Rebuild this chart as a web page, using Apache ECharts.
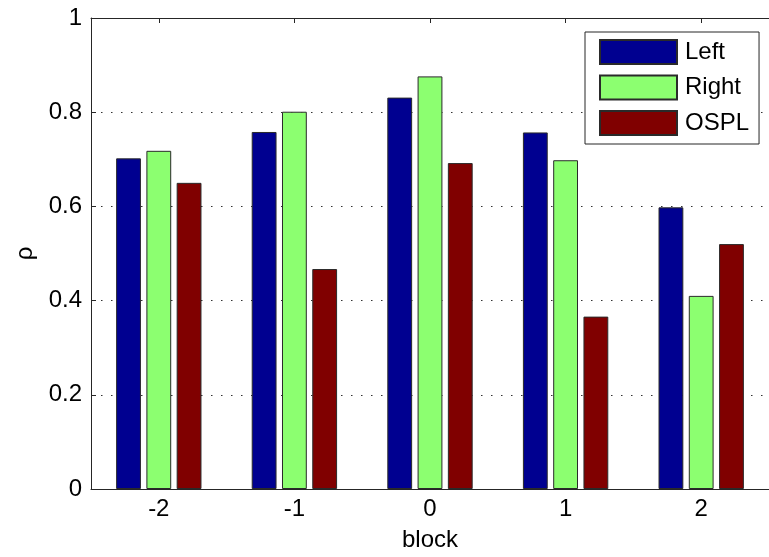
<!DOCTYPE html>
<html>
<head>
<meta charset="utf-8">
<script src="https://cdn.jsdelivr.net/npm/echarts@6/dist/echarts.min.js"></script>
<style>
html,body{margin:0;padding:0;background:#fff;}
#chart{width:769px;height:557px;}
</style>
</head>
<body>
<div id="chart"></div>
<script>
const categories = ['-2', '-1', '0', '1', '2'];
const leftValues = [0.702, 0.758, 0.831, 0.757, 0.598];
const rightValues = [0.718, 0.801, 0.876, 0.698, 0.410];
const osplValues = [0.650, 0.467, 0.692, 0.366, 0.520];
const seriesNames = ['Left', 'Right', 'OSPL'];
const seriesColors = ['#000090', '#8CFF70', '#800000'];
const yTicks = [0, 0.2, 0.4, 0.6, 0.8, 1];

const font = 'Liberation Sans, Arial, Helvetica, sans-serif';
const axisColor = '#262626';

const chart = echarts.init(document.getElementById('chart'), null, {renderer: 'canvas'});

const values = [leftValues, rightValues, osplValues];

chart.setOption({
  animation: false,
  backgroundColor: '#ffffff',
  grid: {left: 91, top: 18, width: 683, height: 474, containLabel: false},
  legend: {
    orient: 'vertical',
    left: 585,
    top: 32,
    data: seriesNames,
    itemWidth: 77,
    itemHeight: 24,
    itemGap: 9.5,
    padding: [7, 10, 8, 14],
    backgroundColor: '#ffffff',
    borderColor: axisColor,
    borderWidth: 1,
    borderRadius: 0,
    icon: 'rect',
    textStyle: {fontFamily: font, fontSize: 24, color: '#000', lineHeight: 24, padding: [0, 0, 0, 3]}
  },
  xAxis: [{
    type: 'category',
    data: categories,
    position: 'bottom',
    boundaryGap: true,
    axisLine: {show: true, lineStyle: {color: axisColor, width: 1}},
    axisTick: {show: true, inside: true, length: 5, alignWithLabel: true, lineStyle: {color: axisColor}},
    axisLabel: {fontFamily: font, fontSize: 24, color: '#000', margin: 8},
    splitLine: {show: false},
    name: 'block',
    nameLocation: 'middle',
    nameGap: 39,
    nameTextStyle: {fontFamily: font, fontSize: 24, color: '#000'}
  }, {
    type: 'category',
    data: categories,
    position: 'top',
    boundaryGap: true,
    axisLine: {show: true, lineStyle: {color: axisColor, width: 1}},
    axisTick: {show: true, inside: true, length: 5, alignWithLabel: true, lineStyle: {color: axisColor}},
    axisLabel: {show: false},
    splitLine: {show: false}
  }],
  yAxis: [{
    type: 'value',
    min: 0,
    max: 1,
    interval: 0.2,
    position: 'left',
    axisLine: {show: true, lineStyle: {color: axisColor, width: 1}},
    axisTick: {show: true, inside: true, length: 5, lineStyle: {color: axisColor}},
    axisLabel: {
      fontFamily: font, fontSize: 24, color: '#000', margin: 9,
      formatter: function (v) { const t = yTicks.find(x => Math.abs(x - v) < 1e-9); return t === undefined ? '' : String(+t.toFixed(1)); }
    },
    splitLine: {show: true, lineStyle: {color: '#333', width: 1.2, type: [1.5, 8.5]}},
    name: 'ρ',
    nameLocation: 'middle',
    nameGap: 52,
    nameRotate: 90,
    nameTextStyle: {fontFamily: font, fontSize: 24, color: '#000'}
  }],
  series: seriesNames.map((name, i) => ({
    name: name,
    type: 'bar',
    data: values[i],
    barWidth: '18.3%',
    barGap: '22%',
    itemStyle: {color: seriesColors[i], borderColor: '#2a2a2a', borderWidth: 1},
    z: 2
  }))
});
</script>
</body>
</html>
